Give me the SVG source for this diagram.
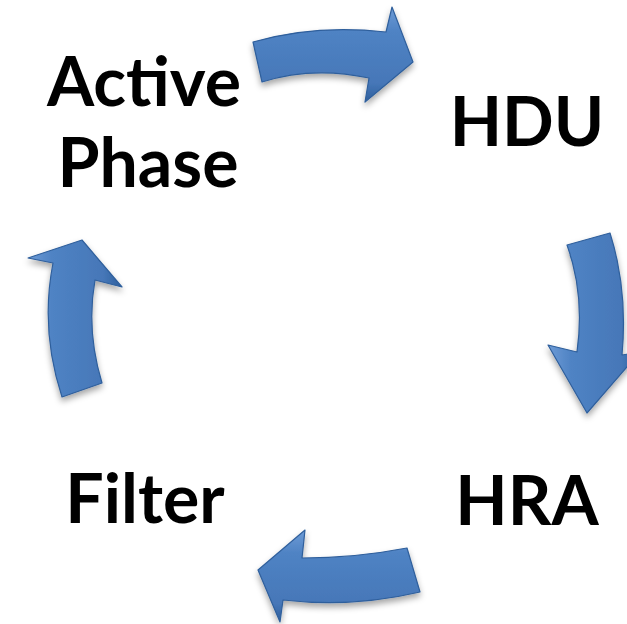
<svg xmlns="http://www.w3.org/2000/svg" width="627" height="624" viewBox="0 0 627 624">
<defs>
<style>
.lbl{font-family:Lato,"Open Sans","Liberation Sans",sans-serif;font-weight:700;font-size:68px;fill:#000;}
.arr{stroke:#2f5f9c;stroke-width:1.2;stroke-linejoin:round;filter:url(#sh);}
</style>
<linearGradient id="gV" x1="0" y1="0" x2="0" y2="1">
<stop offset="0" stop-color="#6d9bd6"/><stop offset="0.25" stop-color="#4f83c4"/><stop offset="0.8" stop-color="#4677b8"/><stop offset="1" stop-color="#2f5f9c"/>
</linearGradient>
<linearGradient id="gH" x1="0" y1="0" x2="1" y2="0">
<stop offset="0" stop-color="#6d9bd6"/><stop offset="0.25" stop-color="#4f83c4"/><stop offset="0.8" stop-color="#4677b8"/><stop offset="1" stop-color="#2f5f9c"/>
</linearGradient>
<filter id="sh" x="-20%" y="-20%" width="140%" height="150%">
<feDropShadow dx="0" dy="4" stdDeviation="3" flood-color="#000" flood-opacity="0.35"/>
</filter>
</defs>
<rect width="627" height="624" fill="#fff"/>
<g id="connectors">
<path class="arr" fill="url(#gV)" d="M253,42 Q315,24 386,32 L392,7 L413,62 L365,102 L369,78 Q312,66 262,82 Z"/>
<path class="arr" fill="url(#gH)" d="M567,245 Q585,295 577,352 L548,345 L587,413 L640,352 L622,355 Q628,290 610,233 Z"/>
<path class="arr" fill="url(#gV)" d="M407,548 Q355,558 302,558 L305,530 L258,570 L280,622 L283,600 Q352,608 420,592 Z"/>
<path class="arr" fill="url(#gH)" d="M62,397 Q40,330 53,263 L28,258 L82,240 L122,287 L95,280 Q86,330 102,383 Z"/>
</g>
<g id="node-active"><text class="lbl" x="144" y="106" text-anchor="middle">Active</text><text class="lbl" x="148" y="187" text-anchor="middle">Phase</text></g>
<g id="node-hdu"><text class="lbl" x="527" y="146" text-anchor="middle">HDU</text></g>
<g id="node-hra"><text class="lbl" x="527" y="525" text-anchor="middle">HRA</text></g>
<g id="node-filter"><text class="lbl" x="145" y="523" text-anchor="middle">Filter</text></g>
</svg>
